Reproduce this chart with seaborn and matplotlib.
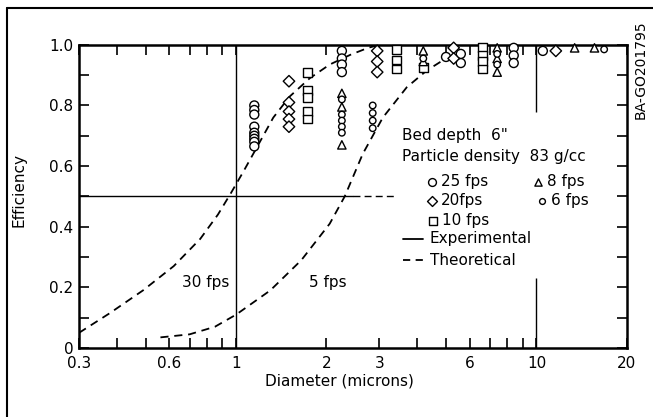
"""Bed filter efficiency vs particle diameter"""

import matplotlib
matplotlib.use("Agg")
import matplotlib.pyplot as plt
from matplotlib.lines import Line2D
import numpy as np
import pandas as pd
import seaborn as sns

sns.set_style("ticks")
plt.rcParams.update({"font.family": ["DejaVu Sans"], "font.size": 11,
                     "text.color": "black", "axes.labelcolor": "black",
                     "xtick.color": "black", "ytick.color": "black",
                     "axes.edgecolor": "black"})

d_25 = [1.15] * 9 + [2.25] * 4 + [5.0, 5.6, 5.6] + [8.4] * 3 + [10.5]
e_25 = [0.80, 0.785, 0.77, 0.73, 0.71, 0.70, 0.69, 0.68, 0.665,
        0.98, 0.955, 0.935, 0.91, 0.96, 0.94, 0.97, 0.99, 0.965, 0.94, 0.98]
d_20 = [1.5] * 5 + [2.95] * 3 + [5.3, 5.3, 11.6]
e_20 = [0.88, 0.81, 0.78, 0.755, 0.73, 0.98, 0.945, 0.91, 0.99, 0.955, 0.98]
d_10 = [1.73] * 5 + [3.42] * 3 + [4.2] + [6.6] * 4
e_10 = [0.91, 0.85, 0.825, 0.78, 0.755, 0.985, 0.95, 0.92, 0.925,
        0.99, 0.965, 0.945, 0.92]
d_8 = [2.25] * 3 + [4.2] * 2 + [7.4] * 3 + [13.4, 15.6]
e_8 = [0.84, 0.795, 0.67, 0.98, 0.945, 0.99, 0.955, 0.91, 0.99, 0.99]
d_6 = [2.25] * 5 + [2.85] * 4 + [4.2] + [7.4] * 2 + [16.8]
e_6 = [0.82, 0.77, 0.75, 0.73, 0.71, 0.80, 0.775, 0.75, 0.725, 0.955,
       0.97, 0.935, 0.985]

# theoretical curves
d_th30 = [0.30, 0.38, 0.49, 0.62, 0.76, 0.87, 0.96, 1.055, 1.17, 1.33, 1.51, 1.76, 2.05, 2.4, 2.75, 3.0]
e_th30 = [0.05, 0.115, 0.19, 0.27, 0.36, 0.44, 0.51, 0.58, 0.66, 0.76, 0.83, 0.89, 0.935, 0.967, 0.99, 1.0]
d_th5 = [0.56, 0.70, 0.85, 1.0, 1.30, 1.65, 2.05, 2.30, 2.64, 3.08, 3.70, 4.31, 4.9, 5.6]
e_th5 = [0.035, 0.045, 0.07, 0.11, 0.19, 0.29, 0.41, 0.50, 0.64, 0.76, 0.86, 0.915, 0.95, 0.975]

series = ["25 fps", "20 fps", "10 fps", "8 fps", "6 fps"]
MARKERS = {"25 fps": "o", "20 fps": "D", "10 fps": "s", "8 fps": "^", "6 fps": "o"}
SIZES = {"25 fps": 42, "20 fps": 34, "10 fps": 40, "8 fps": 36, "6 fps": 22}

frames = []
for name, d, e in zip(series, [d_25, d_20, d_10, d_8, d_6], [e_25, e_20, e_10, e_8, e_6]):
    frames.append(pd.DataFrame({"diameter": d, "efficiency": e, "series": name}))
pts = pd.concat(frames, ignore_index=True)

fig = plt.figure(figsize=(6.53, 4.17), dpi=100)
ax = fig.add_axes([0.121, 0.1655, 0.839, 0.727])
ax.set_xscale("log")

# reference lines (50 % efficiency, 1 and 10 microns)
ax.plot([0.3, 2.45], [0.5, 0.5], color="black", lw=1.0)
ax.plot([2.45, 3.4], [0.5, 0.5], color="black", lw=1.0, dashes=(5, 3))
ax.vlines(1.0, 0, 1, color="black", lw=1.0)
ax.vlines([10.0, 10.0], [0, 0.78], [0.23, 1.0], color="black", lw=1.0)

for d, e in [(d_th30, e_th30), (d_th5, e_th5)]:
    sns.lineplot(x=d, y=e, ax=ax, color="black", lw=1.3, dashes=(4.5, 3.2),
                 sort=False, estimator=None)

sns.scatterplot(data=pts, x="diameter", y="efficiency", style="series", markers=MARKERS,
                size="series", sizes=SIZES, color="white", edgecolor="black",
                linewidth=1.0, legend=False, ax=ax, zorder=3, clip_on=False)

ax.text(0.79, 0.215, "30 fps", ha="center", va="center")
ax.text(2.02, 0.215, "5 fps", ha="center", va="center")

# legend block drawn by hand
tr = ax.transAxes
ax.text(0.589, 0.70, "Bed depth  6\"", transform=tr, va="center")
ax.text(0.589, 0.63, "Particle density  83 g/cc", transform=tr, va="center")
legend_rows = [
    (0.644, 0.548, "o", 40, "25 fps"), (0.838, 0.548, "^", 34, "8 fps"),
    (0.644, 0.485, "D", 32, "20fps"), (0.845, 0.485, "o", 22, "6 fps"),
    (0.646, 0.419, "s", 38, "10 fps"),
]
for x, y, m, s, lab in legend_rows:
    ax.scatter([x], [y], marker=m, s=s * 0.8, color="white", edgecolor="black",
               linewidth=1.0, transform=tr, clip_on=False, zorder=3)
    ax.text(x + 0.016, y, lab, transform=tr, va="center")
ax.plot([0.591, 0.628], [0.36, 0.36], color="black", lw=1.3, transform=tr)
ax.text(0.64, 0.36, "Experimental", transform=tr, va="center")
ax.plot([0.591, 0.628], [0.29, 0.29], color="black", lw=1.3, dashes=(4, 3), transform=tr)
ax.text(0.64, 0.29, "Theoretical", transform=tr, va="center")

ax.set_xlim(0.3, 20)
ax.set_ylim(0, 1.0)
xt = [0.3, 0.4, 0.5, 0.6, 0.7, 0.8, 0.9, 1, 2, 3, 4, 5, 6, 7, 8, 9, 10, 20]
xlab = {0.3: "0.3", 0.6: "0.6", 1: "1", 2: "2", 3: "3", 6: "6", 10: "10", 20: "20"}
ax.set_xticks(xt)
ax.set_xticklabels([xlab.get(v, "") for v in xt])
ax.xaxis.set_minor_locator(matplotlib.ticker.NullLocator())
yt = np.round(np.arange(0, 1.01, 0.1), 1)
ax.set_yticks(yt)
ax.set_yticklabels(["0" if v == 0 else (f"{v:.1f}" if round(v * 10) % 2 == 0 else "") for v in yt])
ax.tick_params(direction="in", length=7, width=1.2, top=True, right=True, labelsize=11,
               color="black", labelcolor="black")
ax.tick_params(axis="x", pad=6)
ax.tick_params(axis="y", pad=4)
for sp in ax.spines.values():
    sp.set_linewidth(1.8)
    sp.set_color("black")

ax.set_xlabel("Diameter (microns)", fontsize=11)
ax.set_ylabel("Efficiency", fontsize=11)
ax.xaxis.set_label_coords(0.476, -0.085)
ax.yaxis.set_label_coords(-0.095, 0.52)

fig.text(641 / 653, 1 - 70 / 417, "BA-GO201795", rotation=90, ha="center", va="center", fontsize=10)

# outer frame of the original figure
fig.add_artist(Line2D([7 / 653, 7 / 653], [0, 1 - 8 / 417], color="black", lw=1.5))
fig.add_artist(Line2D([7 / 653, 1], [1 - 8 / 417, 1 - 8 / 417], color="black", lw=1.5))

fig.savefig("out.png", dpi=100, facecolor="white")
